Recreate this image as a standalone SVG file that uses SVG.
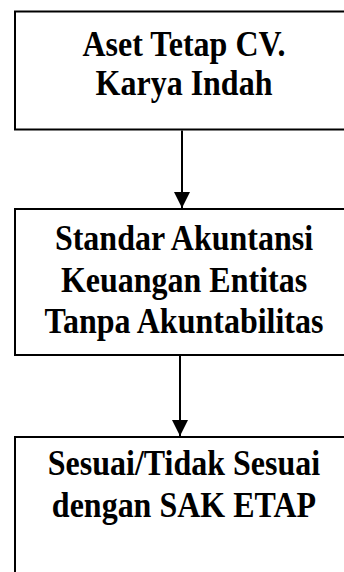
<svg xmlns="http://www.w3.org/2000/svg" width="344" height="572" viewBox="0 0 344 572">
<style>
.box{fill:#fff;stroke:#000;stroke-width:2}
.t{font-family:"Liberation Serif","Times New Roman",serif;font-weight:bold;font-size:32px;fill:#000;text-anchor:middle}
.c{stroke:#000;stroke-width:2;fill:none}
</style>
<defs>
<marker id="ah" viewBox="0 0 16 16" refX="16" refY="8" markerWidth="16" markerHeight="16" markerUnits="userSpaceOnUse" orient="auto">
<path d="M0,0 L16,8 L0,16 Z" fill="#000"/>
</marker>
</defs>
<rect width="344" height="572" fill="#fff"/>
<g id="node1">
<rect class="box" x="15" y="11.5" width="340" height="118"/>
<g transform="translate(184,56) scale(1,1.12)"><text class="t" x="0" y="0">Aset Tetap CV.</text></g>
<g transform="translate(184,95) scale(1,1.12)"><text class="t" x="0" y="0">Karya Indah</text></g>
</g>
<g id="node2">
<rect class="box" x="15" y="209" width="340" height="146"/>
<g transform="translate(184,250) scale(1,1.12)"><text class="t" x="0" y="0">Standar Akuntansi</text></g>
<g transform="translate(184,292) scale(1,1.12)"><text class="t" x="0" y="0">Keuangan Entitas</text></g>
<g transform="translate(184,333) scale(1,1.12)"><text class="t" x="0" y="0">Tanpa Akuntabilitas</text></g>
</g>
<g id="node3">
<rect class="box" x="15" y="437" width="340" height="160"/>
<g transform="translate(184,475) scale(1,1.12)"><text class="t" x="0" y="0">Sesuai/Tidak Sesuai</text></g>
<g transform="translate(184,517) scale(1,1.12)"><text class="t" x="0" y="0">dengan SAK ETAP</text></g>
</g>
<g id="connectors">
<line class="c" x1="182" y1="130.5" x2="182" y2="208" marker-end="url(#ah)"/>
<line class="c" x1="180" y1="356" x2="180" y2="436" marker-end="url(#ah)"/>
</g>
</svg>
